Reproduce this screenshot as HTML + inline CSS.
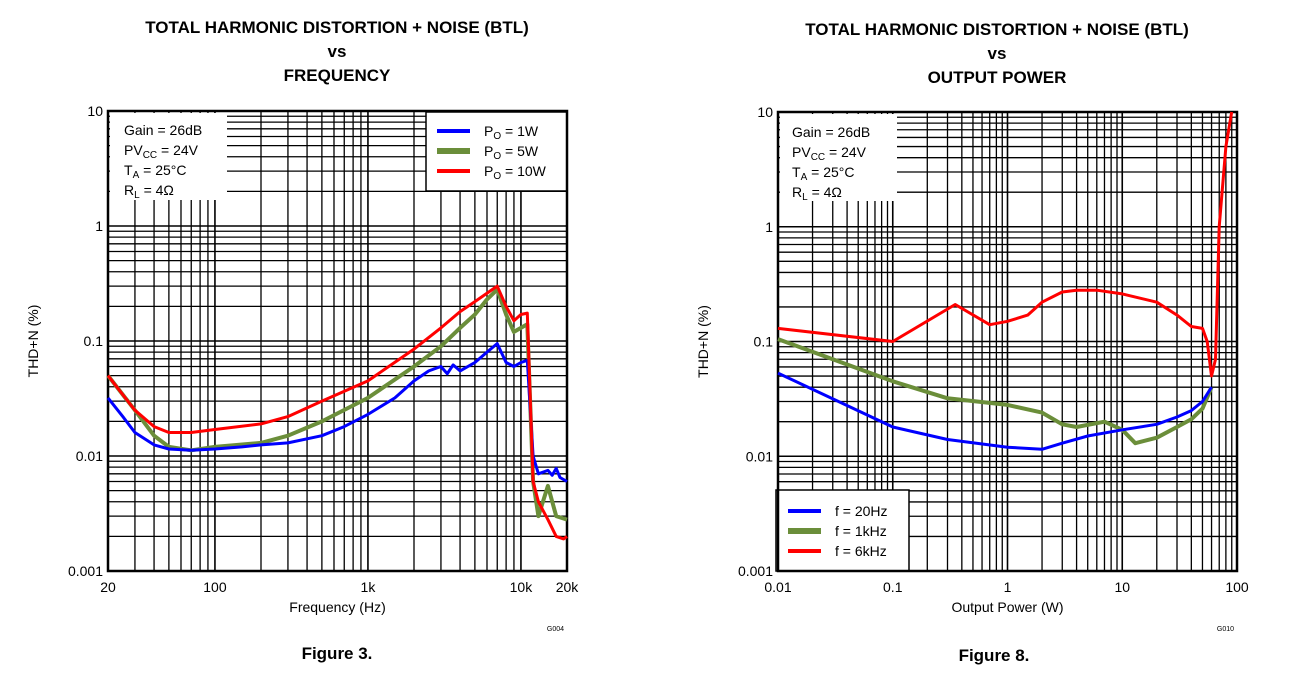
<!DOCTYPE html><html><head><style>body{margin:0;background:#fff}svg text{font-family:"Liberation Sans",Arial,sans-serif;fill:#000}</style></head><body>
<svg id="s" width="1291" height="678" xmlns="http://www.w3.org/2000/svg">
<g font-weight="bold" font-size="17" text-anchor="middle">
<text x="337" y="33">TOTAL HARMONIC DISTORTION + NOISE (BTL)</text><text x="337" y="57">vs</text><text x="337" y="81">FREQUENCY</text>
<text x="997" y="35">TOTAL HARMONIC DISTORTION + NOISE (BTL)</text><text x="997" y="59">vs</text><text x="997" y="83">OUTPUT POWER</text>
<text x="337" y="659">Figure 3.</text><text x="994" y="661">Figure 8.</text></g>
</svg>
<script>
const S=document.getElementById('s');let h='';
function L(x1,y1,x2,y2,w,c){h+=`<line x1="${x1}" y1="${y1}" x2="${x2}" y2="${y2}" stroke="${c||'#000'}" stroke-width="${w||1.3}"/>`}
function T(x,y,t,a,sz){h+=`<text x="${x}" y="${y}" font-size="${sz||14}" text-anchor="${a||'middle'}">${t}</text>`}
function plot(P){
 const {x0,x1,y0,y1,lx0,lx1}=P;
 const X=v=>x0+(Math.log10(v)-lx0)/(lx1-lx0)*(x1-x0), Y=v=>y1-(Math.log10(v)+3)/4*(y1-y0);
 for(let d=-3;d<1;d++)for(let m=1;m<10;m++){const y=Y(m*10**d);L(x0,y,x1,y,m==1?1.6:1.3)}
 for(let d=Math.floor(lx0);d<lx1;d++)for(let m=1;m<10;m++){const v=m*10**d;if(Math.log10(v)<lx0-1e-9||Math.log10(v)>lx1+1e-9)continue;const x=X(v);L(x,y0,x,y1,m==1?1.6:1.3)}
 P.boxes.forEach(b=>h+=`<rect x="${b[0]}" y="${b[1]}" width="${b[2]}" height="${b[3]}" fill="#fff" stroke="${b[4]?'#000':'none'}" stroke-width="1.5"/>`);
 h+=`<rect x="${x0}" y="${y0}" width="${x1-x0}" height="${y1-y0}" fill="none" stroke="#000" stroke-width="2.5"/>`;
 P.series.forEach(s=>{h+=`<polyline fill="none" stroke="${s.c}" stroke-width="${s.w}" stroke-linejoin="round" points="${s.d.map(p=>X(p[0]).toFixed(1)+','+Y(p[1]).toFixed(1)).join(' ')}"/>`});
 ['10','1','0.1','0.01','0.001'].forEach((t,i)=>T(x0-5,y0+i*(y1-y0)/4+5,t,'end'));
 P.xt.forEach(t=>T(X(t[0]),y1+21,t[1]));
 T((x0+x1)/2,y1+41,P.xl);
 h+=`<text transform="translate(${x0-70},${(y0+y1)/2}) rotate(-90)" font-size="14" text-anchor="middle">THD+N (%)</text>`;
 const tx=P.tx,ty=P.ty;
 h+=`<text x="${tx}" y="${ty}" font-size="14">Gain = 26dB</text><text x="${tx}" y="${ty+20}" font-size="14">PV<tspan font-size="10" dy="3">CC</tspan><tspan dy="-3"> = 24V</tspan></text><text x="${tx}" y="${ty+40}" font-size="14">T<tspan font-size="10" dy="3">A</tspan><tspan dy="-3"> = 25°C</tspan></text><text x="${tx}" y="${ty+60}" font-size="14">R<tspan font-size="10" dy="3">L</tspan><tspan dy="-3"> = 4Ω</tspan></text>`;
 P.leg.forEach((l,i)=>{const y=P.ly+i*20;L(P.lx,y,P.lx+33,y,l.w,l.c);h+=`<text x="${P.lx+47}" y="${y+5}" font-size="14">${l.t}</text>`});
 T(x1-3,y1+60,P.g,'end',7);
}
const B='#0000ff',G='#6b8e3a',R='#ff0000';
plot({x0:108,x1:567,y0:111,y1:571,lx0:Math.log10(20),lx1:Math.log10(20000),tx:124,ty:135,g:'G004',xl:'Frequency (Hz)',
 boxes:[[110,113,117,87,0],[426,112,141,79,1]],
 xt:[[20,'20'],[100,'100'],[1000,'1k'],[10000,'10k'],[20000,'20k']],
 leg:[{c:B,w:4,t:'P<tspan font-size="10" dy="3">O</tspan><tspan dy="-3"> = 1W</tspan>'},{c:G,w:6,t:'P<tspan font-size="10" dy="3">O</tspan><tspan dy="-3"> = 5W</tspan>'},{c:R,w:4,t:'P<tspan font-size="10" dy="3">O</tspan><tspan dy="-3"> = 10W</tspan>'}],lx:437,ly:131,
 series:[
 {c:G,w:4,d:[[20,0.05],[30,0.025],[40,0.015],[50,0.012],[70,0.0112],[100,0.012],[200,0.013],[300,0.015],[500,0.02],[1000,0.032],[2000,0.06],[3000,0.09],[4000,0.13],[5000,0.17],[6000,0.23],[7000,0.28],[8000,0.17],[9000,0.12],[10000,0.13],[11000,0.14],[12000,0.006],[13000,0.003],[15000,0.0055],[17000,0.003],[20000,0.0028]]},
 {c:B,w:3,d:[[20,0.032],[25,0.022],[30,0.016],[40,0.0125],[50,0.0115],[70,0.0112],[100,0.0115],[150,0.012],[200,0.0125],[300,0.013],[500,0.015],[700,0.018],[1000,0.023],[1500,0.032],[2000,0.045],[2500,0.055],[3000,0.06],[3300,0.052],[3600,0.062],[4000,0.055],[5000,0.065],[6000,0.08],[7000,0.095],[8000,0.065],[9000,0.06],[10000,0.065],[11000,0.068],[12000,0.01],[13000,0.007],[15000,0.0075],[16000,0.0068],[17000,0.0078],[18000,0.0065],[20000,0.006]]},
 {c:R,w:3,d:[[20,0.05],[30,0.025],[40,0.018],[50,0.016],[70,0.016],[100,0.017],[200,0.019],[300,0.022],[500,0.03],[1000,0.045],[2000,0.085],[3000,0.13],[4000,0.18],[5000,0.22],[7000,0.3],[8000,0.2],[9000,0.15],[10000,0.17],[11000,0.175],[12000,0.006],[13000,0.004],[15000,0.0028],[17000,0.002],[19000,0.0019],[20000,0.002]]}]});
plot({x0:778,x1:1237,y0:112,y1:571,lx0:-2,lx1:2,tx:792,ty:137,g:'G010',xl:'Output Power (W)',
 boxes:[[780,114,117,87,0],[776,490,133,81,1]],
 xt:[[0.01,'0.01'],[0.1,'0.1'],[1,'1'],[10,'10'],[100,'100']],
 leg:[{c:B,w:4,t:'f = 20Hz'},{c:G,w:6,t:'f = 1kHz'},{c:R,w:4,t:'f = 6kHz'}],lx:788,ly:511,
 series:[
 {c:G,w:4,d:[[0.01,0.105],[0.1,0.045],[0.3,0.032],[1,0.028],[2,0.024],[3,0.019],[4,0.018],[7,0.02],[10,0.017],[13,0.013],[20,0.0145],[30,0.018],[40,0.021],[50,0.026],[60,0.04]]},
 {c:B,w:3,d:[[0.01,0.053],[0.1,0.018],[0.3,0.014],[1,0.012],[2,0.0115],[3,0.013],[5,0.015],[10,0.017],[20,0.019],[30,0.022],[40,0.025],[50,0.03],[60,0.04]]},
 {c:R,w:3,d:[[0.01,0.13],[0.1,0.1],[0.35,0.21],[0.7,0.14],[1,0.15],[1.5,0.17],[2,0.22],[3,0.27],[4,0.28],[6,0.28],[10,0.26],[20,0.22],[30,0.17],[40,0.135],[50,0.13],[55,0.1],[60,0.05],[65,0.07],[70,1],[80,5],[90,10]]}]});
S.insertAdjacentHTML('beforeend',h);
</script></body></html>
